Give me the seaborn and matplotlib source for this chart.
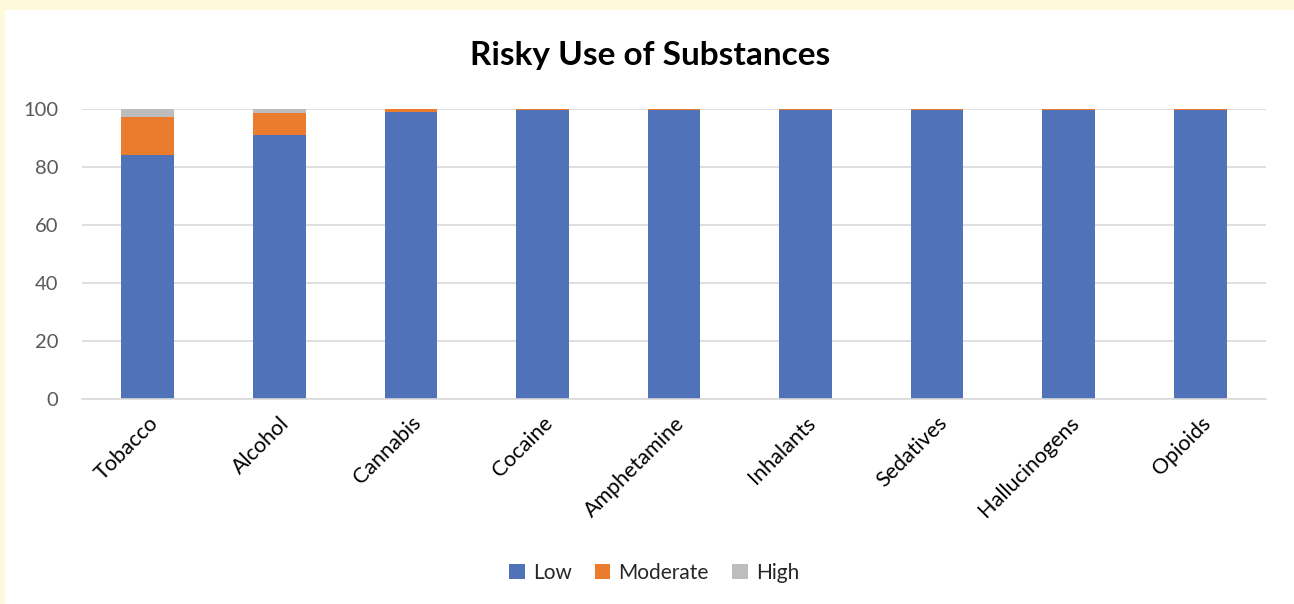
import matplotlib
matplotlib.use("Agg")
import matplotlib.pyplot as plt
from matplotlib.patches import Rectangle, Patch
import seaborn as sns
import pandas as pd
import numpy as np

substances = ["Tobacco", "Alcohol", "Cannabis", "Cocaine", "Amphetamine",
              "Inhalants", "Sedatives", "Hallucinogens", "Opioids"]
low = [84.0, 91.0, 99.1, 99.7, 99.7, 99.7, 99.7, 99.7, 99.7]
moderate = [13.2, 7.5, 0.8, 0.3, 0.3, 0.3, 0.3, 0.3, 0.3]
high = [2.8, 1.5, 0.1, 0.0, 0.0, 0.0, 0.0, 0.0, 0.0]
levels = ["Low", "Moderate", "High"]
colors = {"Low": "#4F72B8", "Moderate": "#EB7B2D", "High": "#BDBDBD"}

df = pd.DataFrame({"Substance": substances, "Low": low,
                   "Moderate": moderate, "High": high})
df["LowMod"] = df["Low"] + df["Moderate"]
df["Total"] = df["LowMod"] + df["High"]

sns.set_theme(style="white")
plt.rcParams["font.family"] = ["Lato", "DejaVu Sans"]

fig = plt.figure(figsize=(12.94, 6.04), dpi=100)
fig.patch.set_facecolor("white")
# light yellow frame strips along the top and left edges
fig.patches.append(Rectangle((0, 1 - 10 / 604), 1, 10 / 604, transform=fig.transFigure,
                             facecolor="#FFF9DB", edgecolor="none", zorder=0))
fig.patches.append(Rectangle((0, 0), 5 / 1294, 1, transform=fig.transFigure,
                             facecolor="#FFF9DB", edgecolor="none", zorder=0))

ax = fig.add_axes([82 / 1294, 1 - 399 / 604, (1266 - 82) / 1294, (399 - 109) / 604])

# stacked bars: draw cumulative layers from the tallest down
for col, lvl in [("Total", "High"), ("LowMod", "Moderate"), ("Low", "Low")]:
    sns.barplot(data=df, x="Substance", y=col, color=colors[lvl], width=0.4,
                saturation=1, ax=ax, order=substances, linewidth=0)

ax.set_ylim(0, 100)
ax.set_xlim(-0.5, len(substances) - 0.5)
ax.set_yticks(np.arange(0, 101, 20))
ax.yaxis.grid(True, color="#D9D9D9", linewidth=1.2)
ax.set_axisbelow(True)
for s in ["top", "right", "left"]:
    ax.spines[s].set_visible(False)
ax.spines["bottom"].set_color("#D9D9D9")
ax.spines["bottom"].set_linewidth(1.2)
ax.set_xlabel("")
ax.set_ylabel("")
ax.tick_params(axis="y", length=0, pad=17, labelsize=14.5, labelcolor="#595959")
ax.tick_params(axis="x", length=0, pad=10, labelsize=15.5, labelcolor="#000000")
plt.setp(ax.get_xticklabels(), rotation=45, ha="right", rotation_mode="anchor")

fig.text(0.5025, 1 - 55 / 604, "Risky Use of Substances", ha="center", va="center",
         fontsize=24, fontweight="bold", color="black")

handles = [Patch(facecolor=colors[l], edgecolor="none") for l in levels]
fig.legend(handles, levels, loc="center", bbox_to_anchor=(654 / 1294, 1 - 573 / 604),
           ncol=3, frameon=False, fontsize=15, handlelength=0.75, handleheight=0.75,
           handletextpad=0.4, columnspacing=1.1)

fig.savefig("out.png", dpi=100, facecolor=fig.get_facecolor())
